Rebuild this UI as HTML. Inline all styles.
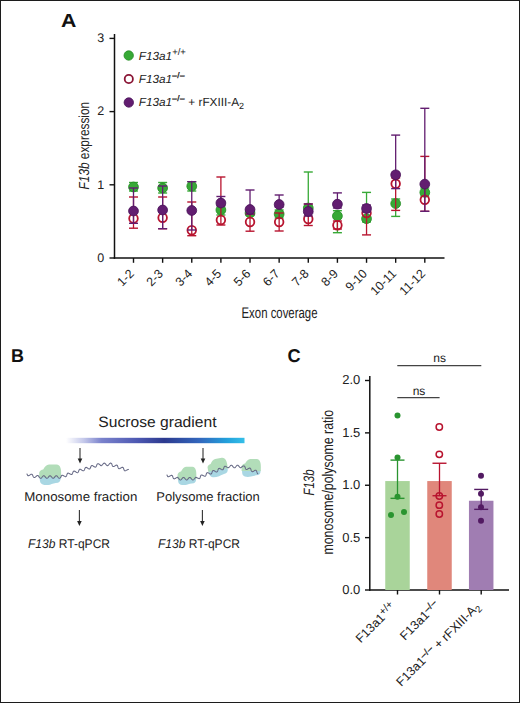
<!DOCTYPE html>
<html><head><meta charset="utf-8"><style>
html,body{margin:0;padding:0;background:#fff;}
#fig{position:relative;width:520px;height:703px;box-sizing:border-box;border:1px solid #1c1c1c;overflow:hidden;background:#fff;}
svg{position:absolute;left:-1px;top:-1px;}
text{font-family:"Liberation Sans", sans-serif;text-rendering:geometricPrecision;}
</style></head><body><div id="fig">
<svg width="520" height="703" viewBox="0 0 520 703" font-family='"Liberation Sans", sans-serif'>
<line x1="114.5" y1="34" x2="114.5" y2="258.7" stroke="#111" stroke-width="1.5"/>
<line x1="113.75" y1="258" x2="444.5" y2="258" stroke="#111" stroke-width="1.5"/>
<line x1="109.5" y1="258" x2="114.5" y2="258" stroke="#111" stroke-width="1.4"/>
<text x="104.3" y="261.8" text-anchor="end" font-size="12.5" fill="#222">0</text>
<line x1="109.5" y1="184.8" x2="114.5" y2="184.8" stroke="#111" stroke-width="1.4"/>
<text x="104.3" y="188.60000000000002" text-anchor="end" font-size="12.5" fill="#222">1</text>
<line x1="109.5" y1="111.6" x2="114.5" y2="111.6" stroke="#111" stroke-width="1.4"/>
<text x="104.3" y="115.39999999999999" text-anchor="end" font-size="12.5" fill="#222">2</text>
<line x1="109.5" y1="38.4" x2="114.5" y2="38.4" stroke="#111" stroke-width="1.4"/>
<text x="104.3" y="42.199999999999996" text-anchor="end" font-size="12.5" fill="#222">3</text>
<line x1="133.50" y1="258" x2="133.50" y2="262.8" stroke="#111" stroke-width="1.4"/>
<text transform="translate(134.80,274.5) rotate(-45) scale(0.98,1)" text-anchor="end" font-size="12.5" fill="#222">1-2</text>
<line x1="162.63" y1="258" x2="162.63" y2="262.8" stroke="#111" stroke-width="1.4"/>
<text transform="translate(163.93,274.5) rotate(-45) scale(0.98,1)" text-anchor="end" font-size="12.5" fill="#222">2-3</text>
<line x1="191.76" y1="258" x2="191.76" y2="262.8" stroke="#111" stroke-width="1.4"/>
<text transform="translate(193.06,274.5) rotate(-45) scale(0.98,1)" text-anchor="end" font-size="12.5" fill="#222">3-4</text>
<line x1="220.89" y1="258" x2="220.89" y2="262.8" stroke="#111" stroke-width="1.4"/>
<text transform="translate(222.19,274.5) rotate(-45) scale(0.98,1)" text-anchor="end" font-size="12.5" fill="#222">4-5</text>
<line x1="250.02" y1="258" x2="250.02" y2="262.8" stroke="#111" stroke-width="1.4"/>
<text transform="translate(251.32,274.5) rotate(-45) scale(0.98,1)" text-anchor="end" font-size="12.5" fill="#222">5-6</text>
<line x1="279.15" y1="258" x2="279.15" y2="262.8" stroke="#111" stroke-width="1.4"/>
<text transform="translate(280.45,274.5) rotate(-45) scale(0.98,1)" text-anchor="end" font-size="12.5" fill="#222">6-7</text>
<line x1="308.28" y1="258" x2="308.28" y2="262.8" stroke="#111" stroke-width="1.4"/>
<text transform="translate(309.58,274.5) rotate(-45) scale(0.98,1)" text-anchor="end" font-size="12.5" fill="#222">7-8</text>
<line x1="337.41" y1="258" x2="337.41" y2="262.8" stroke="#111" stroke-width="1.4"/>
<text transform="translate(338.71,274.5) rotate(-45) scale(0.98,1)" text-anchor="end" font-size="12.5" fill="#222">8-9</text>
<line x1="366.54" y1="258" x2="366.54" y2="262.8" stroke="#111" stroke-width="1.4"/>
<text transform="translate(367.84,274.5) rotate(-45) scale(0.98,1)" text-anchor="end" font-size="12.5" fill="#222">9-10</text>
<line x1="395.67" y1="258" x2="395.67" y2="262.8" stroke="#111" stroke-width="1.4"/>
<text transform="translate(396.97,274.5) rotate(-45) scale(0.98,1)" text-anchor="end" font-size="12.5" fill="#222">10-11</text>
<line x1="424.80" y1="258" x2="424.80" y2="262.8" stroke="#111" stroke-width="1.4"/>
<text transform="translate(426.10,274.5) rotate(-45) scale(0.98,1)" text-anchor="end" font-size="12.5" fill="#222">11-12</text>
<text x="241.5" y="317.5" font-size="15.4" fill="#222" textLength="76" lengthAdjust="spacingAndGlyphs">Exon coverage</text>
<text transform="translate(88.5,189.4) rotate(-90)" font-size="14.5" fill="#222" textLength="87.5" lengthAdjust="spacingAndGlyphs"><tspan font-style="italic">F13b</tspan> expression</text>
<line x1="133.50" y1="182.5" x2="133.50" y2="191" stroke="#37a936" stroke-width="1.3"/>
<line x1="129.00" y1="191" x2="138.00" y2="191" stroke="#37a936" stroke-width="1.4"/>
<line x1="129.00" y1="182.5" x2="138.00" y2="182.5" stroke="#37a936" stroke-width="1.4"/>
<circle cx="133.50" cy="187" r="4.9" fill="#37a936" stroke="#228b22" stroke-width="0.8"/>
<line x1="162.63" y1="182.5" x2="162.63" y2="193" stroke="#37a936" stroke-width="1.3"/>
<line x1="158.13" y1="193" x2="167.13" y2="193" stroke="#37a936" stroke-width="1.4"/>
<line x1="158.13" y1="182.5" x2="167.13" y2="182.5" stroke="#37a936" stroke-width="1.4"/>
<circle cx="162.63" cy="188" r="4.9" fill="#37a936" stroke="#228b22" stroke-width="0.8"/>
<line x1="191.76" y1="181.7" x2="191.76" y2="191" stroke="#37a936" stroke-width="1.3"/>
<line x1="187.26" y1="191" x2="196.26" y2="191" stroke="#37a936" stroke-width="1.4"/>
<line x1="187.26" y1="181.7" x2="196.26" y2="181.7" stroke="#37a936" stroke-width="1.4"/>
<circle cx="191.76" cy="186.2" r="4.9" fill="#37a936" stroke="#228b22" stroke-width="0.8"/>
<line x1="220.89" y1="205" x2="220.89" y2="215" stroke="#37a936" stroke-width="1.3"/>
<line x1="216.39" y1="215" x2="225.39" y2="215" stroke="#37a936" stroke-width="1.4"/>
<line x1="216.39" y1="205" x2="225.39" y2="205" stroke="#37a936" stroke-width="1.4"/>
<circle cx="220.89" cy="210" r="4.9" fill="#37a936" stroke="#228b22" stroke-width="0.8"/>
<line x1="250.02" y1="211" x2="250.02" y2="215.5" stroke="#37a936" stroke-width="1.3"/>
<line x1="245.52" y1="215.5" x2="254.52" y2="215.5" stroke="#37a936" stroke-width="1.4"/>
<line x1="245.52" y1="211" x2="254.52" y2="211" stroke="#37a936" stroke-width="1.4"/>
<circle cx="250.02" cy="213" r="4.9" fill="#37a936" stroke="#228b22" stroke-width="0.8"/>
<line x1="279.15" y1="210" x2="279.15" y2="218" stroke="#37a936" stroke-width="1.3"/>
<line x1="274.65" y1="218" x2="283.65" y2="218" stroke="#37a936" stroke-width="1.4"/>
<line x1="274.65" y1="210" x2="283.65" y2="210" stroke="#37a936" stroke-width="1.4"/>
<circle cx="279.15" cy="214" r="4.9" fill="#37a936" stroke="#228b22" stroke-width="0.8"/>
<line x1="308.28" y1="172" x2="308.28" y2="212" stroke="#37a936" stroke-width="1.3"/>
<line x1="303.78" y1="212" x2="312.78" y2="212" stroke="#37a936" stroke-width="1.4"/>
<line x1="303.78" y1="172" x2="312.78" y2="172" stroke="#37a936" stroke-width="1.4"/>
<circle cx="308.28" cy="208" r="4.9" fill="#37a936" stroke="#228b22" stroke-width="0.8"/>
<line x1="337.41" y1="210.7" x2="337.41" y2="232.7" stroke="#37a936" stroke-width="1.3"/>
<line x1="332.91" y1="232.7" x2="341.91" y2="232.7" stroke="#37a936" stroke-width="1.4"/>
<line x1="332.91" y1="210.7" x2="341.91" y2="210.7" stroke="#37a936" stroke-width="1.4"/>
<circle cx="337.41" cy="216" r="4.9" fill="#37a936" stroke="#228b22" stroke-width="0.8"/>
<line x1="366.54" y1="192.4" x2="366.54" y2="222" stroke="#37a936" stroke-width="1.3"/>
<line x1="362.04" y1="222" x2="371.04" y2="222" stroke="#37a936" stroke-width="1.4"/>
<line x1="362.04" y1="192.4" x2="371.04" y2="192.4" stroke="#37a936" stroke-width="1.4"/>
<circle cx="366.54" cy="218.7" r="4.9" fill="#37a936" stroke="#228b22" stroke-width="0.8"/>
<line x1="395.67" y1="199" x2="395.67" y2="216.4" stroke="#37a936" stroke-width="1.3"/>
<line x1="391.17" y1="216.4" x2="400.17" y2="216.4" stroke="#37a936" stroke-width="1.4"/>
<line x1="391.17" y1="199" x2="400.17" y2="199" stroke="#37a936" stroke-width="1.4"/>
<circle cx="395.67" cy="203.6" r="4.9" fill="#37a936" stroke="#228b22" stroke-width="0.8"/>
<line x1="424.80" y1="188" x2="424.80" y2="196" stroke="#37a936" stroke-width="1.3"/>
<line x1="420.30" y1="196" x2="429.30" y2="196" stroke="#37a936" stroke-width="1.4"/>
<line x1="420.30" y1="188" x2="429.30" y2="188" stroke="#37a936" stroke-width="1.4"/>
<circle cx="424.80" cy="192.4" r="4.9" fill="#37a936" stroke="#228b22" stroke-width="0.8"/>
<line x1="133.50" y1="197" x2="133.50" y2="228.2" stroke="#b8142f" stroke-width="1.3"/>
<line x1="129.00" y1="228.2" x2="138.00" y2="228.2" stroke="#b8142f" stroke-width="1.4"/>
<line x1="129.00" y1="197" x2="138.00" y2="197" stroke="#b8142f" stroke-width="1.4"/>
<circle cx="133.50" cy="218.5" r="4.3" fill="none" stroke="#b8142f" stroke-width="1.8"/>
<line x1="162.63" y1="197" x2="162.63" y2="228.7" stroke="#b8142f" stroke-width="1.3"/>
<line x1="158.13" y1="228.7" x2="167.13" y2="228.7" stroke="#b8142f" stroke-width="1.4"/>
<line x1="158.13" y1="197" x2="167.13" y2="197" stroke="#b8142f" stroke-width="1.4"/>
<circle cx="162.63" cy="217.7" r="4.3" fill="none" stroke="#b8142f" stroke-width="1.8"/>
<line x1="191.76" y1="202" x2="191.76" y2="235.7" stroke="#b8142f" stroke-width="1.3"/>
<line x1="187.26" y1="235.7" x2="196.26" y2="235.7" stroke="#b8142f" stroke-width="1.4"/>
<line x1="187.26" y1="202" x2="196.26" y2="202" stroke="#b8142f" stroke-width="1.4"/>
<circle cx="191.76" cy="230.2" r="4.3" fill="none" stroke="#b8142f" stroke-width="1.8"/>
<line x1="220.89" y1="177" x2="220.89" y2="225" stroke="#b8142f" stroke-width="1.3"/>
<line x1="216.39" y1="225" x2="225.39" y2="225" stroke="#b8142f" stroke-width="1.4"/>
<line x1="216.39" y1="177" x2="225.39" y2="177" stroke="#b8142f" stroke-width="1.4"/>
<circle cx="220.89" cy="220" r="4.3" fill="none" stroke="#b8142f" stroke-width="1.8"/>
<line x1="250.02" y1="214" x2="250.02" y2="231.2" stroke="#b8142f" stroke-width="1.3"/>
<line x1="245.52" y1="231.2" x2="254.52" y2="231.2" stroke="#b8142f" stroke-width="1.4"/>
<line x1="245.52" y1="214" x2="254.52" y2="214" stroke="#b8142f" stroke-width="1.4"/>
<circle cx="250.02" cy="222" r="4.3" fill="none" stroke="#b8142f" stroke-width="1.8"/>
<line x1="279.15" y1="213" x2="279.15" y2="231" stroke="#b8142f" stroke-width="1.3"/>
<line x1="274.65" y1="231" x2="283.65" y2="231" stroke="#b8142f" stroke-width="1.4"/>
<line x1="274.65" y1="213" x2="283.65" y2="213" stroke="#b8142f" stroke-width="1.4"/>
<circle cx="279.15" cy="222" r="4.3" fill="none" stroke="#b8142f" stroke-width="1.8"/>
<line x1="308.28" y1="204" x2="308.28" y2="225.5" stroke="#b8142f" stroke-width="1.3"/>
<line x1="303.78" y1="225.5" x2="312.78" y2="225.5" stroke="#b8142f" stroke-width="1.4"/>
<line x1="303.78" y1="204" x2="312.78" y2="204" stroke="#b8142f" stroke-width="1.4"/>
<circle cx="308.28" cy="219" r="4.3" fill="none" stroke="#b8142f" stroke-width="1.8"/>
<line x1="337.41" y1="221" x2="337.41" y2="229" stroke="#b8142f" stroke-width="1.3"/>
<line x1="332.91" y1="229" x2="341.91" y2="229" stroke="#b8142f" stroke-width="1.4"/>
<line x1="332.91" y1="221" x2="341.91" y2="221" stroke="#b8142f" stroke-width="1.4"/>
<circle cx="337.41" cy="225.2" r="4.3" fill="none" stroke="#b8142f" stroke-width="1.8"/>
<line x1="366.54" y1="209" x2="366.54" y2="234.9" stroke="#b8142f" stroke-width="1.3"/>
<line x1="362.04" y1="234.9" x2="371.04" y2="234.9" stroke="#b8142f" stroke-width="1.4"/>
<line x1="362.04" y1="209" x2="371.04" y2="209" stroke="#b8142f" stroke-width="1.4"/>
<circle cx="366.54" cy="213" r="4.3" fill="none" stroke="#b8142f" stroke-width="1.8"/>
<line x1="395.67" y1="178" x2="395.67" y2="210.4" stroke="#b8142f" stroke-width="1.3"/>
<line x1="391.17" y1="210.4" x2="400.17" y2="210.4" stroke="#b8142f" stroke-width="1.4"/>
<line x1="391.17" y1="178" x2="400.17" y2="178" stroke="#b8142f" stroke-width="1.4"/>
<circle cx="395.67" cy="183.8" r="4.3" fill="none" stroke="#b8142f" stroke-width="1.8"/>
<line x1="424.80" y1="156.4" x2="424.80" y2="211.3" stroke="#b8142f" stroke-width="1.3"/>
<line x1="420.30" y1="211.3" x2="429.30" y2="211.3" stroke="#b8142f" stroke-width="1.4"/>
<line x1="420.30" y1="156.4" x2="429.30" y2="156.4" stroke="#b8142f" stroke-width="1.4"/>
<circle cx="424.80" cy="199.8" r="4.3" fill="none" stroke="#b8142f" stroke-width="1.8"/>
<line x1="133.50" y1="188" x2="133.50" y2="223.3" stroke="#621d70" stroke-width="1.3"/>
<line x1="129.00" y1="223.3" x2="138.00" y2="223.3" stroke="#621d70" stroke-width="1.4"/>
<line x1="129.00" y1="188" x2="138.00" y2="188" stroke="#621d70" stroke-width="1.4"/>
<circle cx="133.50" cy="211" r="4.9" fill="#621d70" stroke="#481058" stroke-width="0.8"/>
<line x1="162.63" y1="186" x2="162.63" y2="228.7" stroke="#621d70" stroke-width="1.3"/>
<line x1="158.13" y1="228.7" x2="167.13" y2="228.7" stroke="#621d70" stroke-width="1.4"/>
<line x1="158.13" y1="186" x2="167.13" y2="186" stroke="#621d70" stroke-width="1.4"/>
<circle cx="162.63" cy="210" r="4.9" fill="#621d70" stroke="#481058" stroke-width="0.8"/>
<line x1="191.76" y1="181.7" x2="191.76" y2="230" stroke="#621d70" stroke-width="1.3"/>
<line x1="187.26" y1="230" x2="196.26" y2="230" stroke="#621d70" stroke-width="1.4"/>
<line x1="187.26" y1="181.7" x2="196.26" y2="181.7" stroke="#621d70" stroke-width="1.4"/>
<circle cx="191.76" cy="210.5" r="4.9" fill="#621d70" stroke="#481058" stroke-width="0.8"/>
<line x1="220.89" y1="196.5" x2="220.89" y2="206" stroke="#621d70" stroke-width="1.3"/>
<line x1="216.39" y1="206" x2="225.39" y2="206" stroke="#621d70" stroke-width="1.4"/>
<line x1="216.39" y1="196.5" x2="225.39" y2="196.5" stroke="#621d70" stroke-width="1.4"/>
<circle cx="220.89" cy="203" r="4.9" fill="#621d70" stroke="#481058" stroke-width="0.8"/>
<line x1="250.02" y1="190" x2="250.02" y2="214" stroke="#621d70" stroke-width="1.3"/>
<line x1="245.52" y1="214" x2="254.52" y2="214" stroke="#621d70" stroke-width="1.4"/>
<line x1="245.52" y1="190" x2="254.52" y2="190" stroke="#621d70" stroke-width="1.4"/>
<circle cx="250.02" cy="209.5" r="4.9" fill="#621d70" stroke="#481058" stroke-width="0.8"/>
<line x1="279.15" y1="195" x2="279.15" y2="207" stroke="#621d70" stroke-width="1.3"/>
<line x1="274.65" y1="207" x2="283.65" y2="207" stroke="#621d70" stroke-width="1.4"/>
<line x1="274.65" y1="195" x2="283.65" y2="195" stroke="#621d70" stroke-width="1.4"/>
<circle cx="279.15" cy="204.5" r="4.9" fill="#621d70" stroke="#481058" stroke-width="0.8"/>
<line x1="308.28" y1="204" x2="308.28" y2="216" stroke="#621d70" stroke-width="1.3"/>
<line x1="303.78" y1="216" x2="312.78" y2="216" stroke="#621d70" stroke-width="1.4"/>
<line x1="303.78" y1="204" x2="312.78" y2="204" stroke="#621d70" stroke-width="1.4"/>
<circle cx="308.28" cy="211.5" r="4.9" fill="#621d70" stroke="#481058" stroke-width="0.8"/>
<line x1="337.41" y1="192.9" x2="337.41" y2="208" stroke="#621d70" stroke-width="1.3"/>
<line x1="332.91" y1="208" x2="341.91" y2="208" stroke="#621d70" stroke-width="1.4"/>
<line x1="332.91" y1="192.9" x2="341.91" y2="192.9" stroke="#621d70" stroke-width="1.4"/>
<circle cx="337.41" cy="204.2" r="4.9" fill="#621d70" stroke="#481058" stroke-width="0.8"/>
<line x1="366.54" y1="205" x2="366.54" y2="212" stroke="#621d70" stroke-width="1.3"/>
<line x1="362.04" y1="212" x2="371.04" y2="212" stroke="#621d70" stroke-width="1.4"/>
<line x1="362.04" y1="205" x2="371.04" y2="205" stroke="#621d70" stroke-width="1.4"/>
<circle cx="366.54" cy="208.5" r="4.9" fill="#621d70" stroke="#481058" stroke-width="0.8"/>
<line x1="395.67" y1="135.1" x2="395.67" y2="188.6" stroke="#621d70" stroke-width="1.3"/>
<line x1="391.17" y1="188.6" x2="400.17" y2="188.6" stroke="#621d70" stroke-width="1.4"/>
<line x1="391.17" y1="135.1" x2="400.17" y2="135.1" stroke="#621d70" stroke-width="1.4"/>
<circle cx="395.67" cy="174.8" r="4.9" fill="#621d70" stroke="#481058" stroke-width="0.8"/>
<line x1="424.80" y1="108.3" x2="424.80" y2="211.3" stroke="#621d70" stroke-width="1.3"/>
<line x1="420.30" y1="211.3" x2="429.30" y2="211.3" stroke="#621d70" stroke-width="1.4"/>
<line x1="420.30" y1="108.3" x2="429.30" y2="108.3" stroke="#621d70" stroke-width="1.4"/>
<circle cx="424.80" cy="184.1" r="4.9" fill="#621d70" stroke="#481058" stroke-width="0.8"/>
<circle cx="128.7" cy="55.5" r="4.7" fill="#37a936" stroke="#228b22" stroke-width="0.8"/>
<circle cx="128.8" cy="79" r="4.1" fill="none" stroke="#8a1535" stroke-width="1.8"/>
<circle cx="128.8" cy="102.5" r="4.7" fill="#621d70" stroke="#481058" stroke-width="0.8"/>
<text x="138.7" y="59.7" font-size="11.8" fill="#222"><tspan font-style="italic">F13a1</tspan><tspan font-size="9.5" dy="-5.2" stroke="#222" stroke-width="0" letter-spacing="0">+/+</tspan><tspan dy="5.2"></tspan></text>
<text x="138.7" y="82.6" font-size="11.8" fill="#222"><tspan font-style="italic">F13a1</tspan><tspan font-size="8.2" dy="-4.6" stroke="#222" stroke-width="0.35" letter-spacing="0.5">&#8211;/&#8211;</tspan><tspan dy="4.6"></tspan></text>
<text x="138.7" y="105.8" font-size="11.8" fill="#222"><tspan font-style="italic">F13a1</tspan><tspan font-size="8.2" dy="-4.6" stroke="#222" stroke-width="0.35" letter-spacing="0.5">&#8211;/&#8211;</tspan><tspan dy="4.6"> + rFXIII-A<tspan font-size="9" dy="3">2</tspan></tspan></text>
<text transform="translate(60.9,26.6) scale(1.12,1)" font-size="19" font-weight="bold" fill="#111">A</text>
<text transform="translate(10.9,361.5) scale(0.97,1)" font-size="18.5" font-weight="bold" fill="#111">B</text>
<text transform="translate(287.6,361.6) scale(0.98,1)" font-size="18.5" font-weight="bold" fill="#111">C</text>
<defs><linearGradient id="grad" x1="0" x2="1" y1="0" y2="0">
<stop offset="0" stop-color="#ffffff"/>
<stop offset="0.1" stop-color="#c4c8ea"/>
<stop offset="0.2" stop-color="#7a82cc"/>
<stop offset="0.4" stop-color="#4d58b2"/>
<stop offset="0.55" stop-color="#2c3a8f"/>
<stop offset="0.75" stop-color="#3267bd"/>
<stop offset="0.9" stop-color="#22a0db"/>
<stop offset="1" stop-color="#35bfe8"/>
</linearGradient></defs>
<rect x="66" y="437.8" width="178.5" height="5.4" fill="url(#grad)"/>
<text x="98.3" y="427" font-size="15" fill="#222" textLength="118.2" lengthAdjust="spacingAndGlyphs">Sucrose gradient</text>
<line x1="80" y1="448" x2="80" y2="459.5" stroke="#333" stroke-width="1.1"/>
<path d="M77.7,458.5 L82.3,458.5 L80,463.5 Z" fill="#222"/>
<line x1="203" y1="448" x2="203" y2="459.5" stroke="#333" stroke-width="1.1"/>
<path d="M200.7,458.5 L205.3,458.5 L203,463.5 Z" fill="#222"/>
<line x1="79.4" y1="510" x2="79.4" y2="522" stroke="#333" stroke-width="1.1"/>
<path d="M77.10000000000001,521 L81.7,521 L79.4,526 Z" fill="#222"/>
<line x1="202.4" y1="510" x2="202.4" y2="522" stroke="#333" stroke-width="1.1"/>
<path d="M200.1,521 L204.70000000000002,521 L202.4,526 Z" fill="#222"/>
<text x="24.3" y="501" font-size="12.8" fill="#222" textLength="113" lengthAdjust="spacingAndGlyphs">Monosome fraction</text>
<text x="156.3" y="501" font-size="12.8" fill="#222" textLength="103.5" lengthAdjust="spacingAndGlyphs">Polysome fraction</text>
<text x="28" y="548.4" font-size="12.6" fill="#222" textLength="82" lengthAdjust="spacingAndGlyphs"><tspan font-style="italic">F13b</tspan> RT-qPCR</text>
<text x="158" y="548.4" font-size="12.6" fill="#222" textLength="82" lengthAdjust="spacingAndGlyphs"><tspan font-style="italic">F13b</tspan> RT-qPCR</text>
<g transform="translate(39.2,477) rotate(0)"><path d="M0.6,-1 L21.6,-1 C21.9,2 21.3,5 18.8,6 C15.8,6.5 12.8,7 10.8,8 C6.8,8.8 2.8,8.5 1.3,6 C0.5,4 0.4,1 0.6,-1 Z" transform="scale(1.000,0.965)" fill="#a9d7e3"/><path d="M0,0.6 L0,-4.5 C0.3,-6 2.3,-7.6 4,-7.6 C5.6,-10 7.3,-12.2 9.8,-12.4 L17.3,-12.5 C19.3,-12.4 20.8,-11 21.3,-9 C22.1,-7 22,-3 21.8,0.6 Z" transform="scale(1.000,1.000)" fill="#b2ddb9"/></g>
<polyline points="27.00,474.00 27.22,474.61 27.46,475.14 27.76,475.53 28.11,475.74 28.53,475.75 29.01,475.58 29.53,475.28 30.07,474.92 30.61,474.57 31.12,474.31 31.57,474.21 31.97,474.29 32.29,474.58 32.57,475.03 32.80,475.60 33.05,476.21 33.36,476.76 33.69,477.20 34.06,477.47 34.45,477.53 34.88,477.40 35.33,477.10 35.81,476.69 36.29,476.24 36.76,475.84 37.21,475.57 37.64,475.47 38.03,475.57 38.38,475.87 38.71,476.33 39.00,476.88 39.40,477.40 39.81,477.85 40.21,478.17 40.61,478.30 41.01,478.22 41.41,477.95 41.81,477.52 42.21,477.01 42.61,476.50 43.01,476.07 43.41,475.79 43.81,475.70 44.21,475.82 44.61,476.13 45.01,476.57 45.41,477.09 45.81,477.59 46.21,478.00 46.61,478.24 47.01,478.29 47.41,478.13 47.81,477.80 48.21,477.33 48.61,476.81 49.01,476.32 49.41,475.94 49.81,475.73 50.21,475.72 50.62,475.92 51.02,476.29 51.42,476.77 51.82,477.29 52.22,477.76 52.62,478.11 53.02,478.29 53.42,478.25 53.82,478.02 54.22,477.63 54.62,477.13 55.02,476.61 55.42,476.16 55.82,475.84 56.22,475.70 56.62,475.78 57.02,476.04 57.42,476.47 57.82,476.97 58.22,477.48 58.62,477.92 59.02,478.21 59.42,478.30 59.82,478.19 60.22,477.88 60.62,477.44 61.00,476.92 61.20,476.31 61.44,475.79 61.73,475.42 62.09,475.23 62.51,475.23 63.01,475.41 63.54,475.71 64.09,476.06 64.64,476.39 65.15,476.61 65.60,476.68 65.98,476.55 66.29,476.24 66.54,475.76 66.75,475.17 66.95,474.54 67.16,473.96 67.42,473.49 67.73,473.18 68.12,473.07 68.57,473.15 69.08,473.38 69.63,473.71 70.18,474.06 70.71,474.35 71.20,474.52 71.63,474.52 71.98,474.32 72.27,473.93 72.48,473.42 72.71,472.82 72.94,472.22 73.20,471.68 73.50,471.29 73.85,471.07 74.26,471.06 74.73,471.23 75.25,471.53 75.78,471.90 76.31,472.27 76.81,472.55 77.27,472.67 77.67,472.61 78.01,472.35 78.30,471.92 78.55,471.36 78.78,470.75 79.01,470.16 79.28,469.67 79.60,469.34 79.98,469.21 80.42,469.27 80.90,469.50 81.43,469.84 81.96,470.22 82.49,470.55 82.97,470.78 83.41,470.84 83.79,470.70 84.10,470.37 84.37,469.88 84.61,469.29 84.84,468.68 85.09,468.12 85.37,467.69 85.71,467.43 86.12,467.37 86.57,467.50 87.08,467.78 87.61,468.15 88.14,468.52 88.66,468.82 89.13,468.99 89.54,468.97 89.89,468.76 90.19,468.36 90.44,467.82 90.67,467.21 90.91,466.61 91.17,466.10 91.47,465.73 91.84,465.55 92.26,465.57 92.74,465.76 93.26,466.09 93.79,466.46 94.32,466.82 94.82,467.07 95.27,467.17 95.66,467.08 95.99,466.79 96.27,466.33 96.51,465.75 96.74,465.14 96.98,464.56 97.26,464.10 97.58,463.80 97.97,463.70 98.42,463.79 98.91,464.04 99.44,464.39 99.98,464.77 100.27,465.21 100.67,465.54 101.07,465.69 101.47,465.64 101.87,465.38 102.27,464.97 102.67,464.47 103.07,463.95 103.47,463.51 103.87,463.21 104.27,463.10 104.67,463.20 105.07,463.49 105.47,463.92 105.87,464.43 106.27,464.94 106.67,465.36 107.07,465.63 107.47,465.70 107.88,465.56 108.28,465.24 108.68,464.78 109.08,464.26 109.48,463.77 109.88,463.37 110.28,463.14 110.68,463.11 111.45,463.38 111.71,463.85 111.92,464.44 112.12,465.06 112.33,465.65 112.58,466.13 112.89,466.45 113.27,466.58 113.72,466.51 114.23,466.29 114.77,465.97 115.33,465.62 115.86,465.32 116.35,465.14 116.78,465.13 117.14,465.32 117.43,465.69 117.67,466.21 117.87,466.82 118.07,467.44 118.30,468.00 118.57,468.42 118.90,468.67 119.31,468.72 119.78,468.59 120.31,468.32 120.86,467.97 121.41,467.63 121.93,467.37 122.40,467.26 122.80,467.32 123.13,467.58 123.40,468.02 123.62,468.58 123.82,469.21 124.03,469.81 124.27,470.32 124.56,470.68 124.93,470.85 125.36,470.83 125.86,470.64 126.39,470.33 126.95,469.98 127.49,469.66 127.99,469.45 128.44,469.40" fill="none" stroke="#676a86" stroke-width="1.05" stroke-linejoin="round" stroke-linecap="round"/>
<g transform="translate(177.6,478.7) rotate(0)"><path d="M0.6,-1 L21.6,-1 C21.9,2 21.3,5 18.8,6 C15.8,6.5 12.8,7 10.8,8 C6.8,8.8 2.8,8.5 1.3,6 C0.5,4 0.4,1 0.6,-1 Z" transform="scale(0.855,0.765)" fill="#a9d7e3"/><path d="M0,0.6 L0,-4.5 C0.3,-6 2.3,-7.6 4,-7.6 C5.6,-10 7.3,-12.2 9.8,-12.4 L17.3,-12.5 C19.3,-12.4 20.8,-11 21.3,-9 C22.1,-7 22,-3 21.8,0.6 Z" transform="scale(0.855,0.960)" fill="#b2ddb9"/></g>
<g transform="translate(208.2,471.2) rotate(-10)"><path d="M0.6,-1 L21.6,-1 C21.9,2 21.3,5 18.8,6 C15.8,6.5 12.8,7 10.8,8 C6.8,8.8 2.8,8.5 1.3,6 C0.5,4 0.4,1 0.6,-1 Z" transform="scale(0.909,0.859)" fill="#a9d7e3"/><path d="M0,0.6 L0,-4.5 C0.3,-6 2.3,-7.6 4,-7.6 C5.6,-10 7.3,-12.2 9.8,-12.4 L17.3,-12.5 C19.3,-12.4 20.8,-11 21.3,-9 C22.1,-7 22,-3 21.8,0.6 Z" transform="scale(0.909,0.864)" fill="#b2ddb9"/></g>
<g transform="translate(241.6,470.5) rotate(0)"><path d="M0.6,-1 L21.6,-1 C21.9,2 21.3,5 18.8,6 C15.8,6.5 12.8,7 10.8,8 C6.8,8.8 2.8,8.5 1.3,6 C0.5,4 0.4,1 0.6,-1 Z" transform="scale(0.877,0.765)" fill="#a9d7e3"/><path d="M0,0.6 L0,-4.5 C0.3,-6 2.3,-7.6 4,-7.6 C5.6,-10 7.3,-12.2 9.8,-12.4 L17.3,-12.5 C19.3,-12.4 20.8,-11 21.3,-9 C22.1,-7 22,-3 21.8,0.6 Z" transform="scale(0.877,0.920)" fill="#b2ddb9"/></g>
<polyline points="167.00,475.00 167.21,475.61 167.45,476.15 167.73,476.55 168.08,476.76 168.50,476.77 168.99,476.61 169.52,476.32 170.07,475.96 170.61,475.62 171.12,475.38 171.58,475.29 171.97,475.39 172.29,475.68 172.56,476.14 172.78,476.72 172.98,477.35 173.20,477.94 173.46,478.42 173.77,478.74 174.15,478.87 174.60,478.80 175.11,478.57 175.65,478.24 176.20,477.89 176.73,477.58 177.22,477.39 177.65,477.38 177.61,477.46 178.01,477.71 178.41,478.12 178.81,478.63 179.21,479.14 179.61,479.59 180.02,479.89 180.42,480.00 180.82,479.90 181.22,479.61 181.62,479.17 182.02,478.66 182.42,478.15 182.83,477.73 183.23,477.47 183.63,477.40 184.03,477.55 184.43,477.87 184.83,478.33 185.23,478.85 185.64,479.35 186.04,479.74 186.44,479.96 186.84,479.98 187.24,479.80 187.64,479.44 188.04,478.96 188.45,478.44 188.85,477.96 189.25,477.60 189.65,477.42 190.05,477.44 190.45,477.67 190.85,478.06 191.26,478.56 191.66,479.07 192.06,479.53 192.46,479.86 192.86,480.00 193.26,479.93 193.67,479.66 194.07,479.24 194.47,478.73 194.87,478.22 195.27,477.78 195.67,477.49 195.56,477.36 195.97,477.31 196.46,477.44 197.00,477.70 197.56,478.03 198.13,478.34 198.65,478.57 199.12,478.65 199.51,478.54 199.82,478.25 200.06,477.78 200.26,477.19 200.43,476.56 200.62,475.96 200.85,475.45 201.14,475.11 201.51,474.95 201.96,474.99 202.47,475.18 203.03,475.48 203.60,475.81 204.15,476.09 204.65,476.26 205.08,476.27 205.44,476.08 205.72,475.70 205.94,475.18 206.12,474.57 206.32,473.94 206.54,473.38 206.81,472.95 207.15,472.70 207.56,472.64 208.03,472.77 208.55,473.04 209.10,473.38 209.66,473.72 210.18,473.99 210.65,474.11 211.05,474.04 211.39,473.78 211.66,473.35 211.88,472.78 212.08,472.16 212.29,471.55 212.53,471.04 212.82,470.68 213.19,470.52 213.63,470.54 214.12,470.74 214.66,471.04 215.22,471.40 215.76,471.71 216.26,471.92 216.71,471.97 217.08,471.82 217.38,471.48 217.63,470.98 217.84,470.38 218.04,469.76 218.26,469.18 218.52,468.73 218.85,468.45 219.24,468.37 219.71,468.47 220.23,468.72 220.78,469.06 221.33,469.41 221.86,469.69 222.34,469.83 222.75,469.79 223.09,469.56 223.37,469.15 223.60,468.60 223.80,467.98 224.00,467.36 224.24,466.83 224.53,466.45 224.88,466.26 225.31,466.26 225.80,466.43 226.33,466.73 226.89,467.08 227.43,467.40 227.94,467.63 228.40,467.70 228.36,467.78 228.77,467.59 229.17,467.23 229.57,466.75 229.97,466.23 230.37,465.75 230.77,465.39 231.17,465.21 231.58,465.24 231.98,465.47 232.38,465.87 232.78,466.36 233.18,466.88 233.58,467.34 233.98,467.66 234.39,467.80 234.79,467.72 235.19,467.45 235.59,467.03 235.99,466.52 236.39,466.01 236.79,465.58 237.20,465.29 237.60,465.20 238.00,465.32 238.40,465.63 238.80,466.07 239.20,466.59 239.60,467.09 240.01,467.50 240.41,467.75 240.81,467.79 241.21,467.63 241.61,467.29 241.90,466.80 242.46,466.45 243.01,466.14 243.51,465.92 243.96,465.87 244.34,466.01 244.64,466.34 244.89,466.83 245.10,467.43 245.29,468.05 245.51,468.63 245.76,469.10 246.08,469.39 246.47,469.49 246.93,469.40 247.45,469.16 248.00,468.82 248.56,468.48 249.09,468.20 249.58,468.05 249.99,468.07 250.34,468.30 250.62,468.70 250.84,469.25 251.04,469.87 251.24,470.48 251.47,471.02 251.75,471.42 252.10,471.63 252.53,471.64 253.01,471.48 253.55,471.19 254.10,470.84 254.65,470.52 255.17,470.28 255.62,470.21 256.01,470.32 256.33,470.62 256.58,471.10 256.79,471.68 256.99,472.31 257.20,472.90 257.44,473.38 257.76,473.70" fill="none" stroke="#676a86" stroke-width="1.05" stroke-linejoin="round" stroke-linecap="round"/>
<line x1="369.8" y1="376" x2="369.8" y2="590.7" stroke="#111" stroke-width="1.5"/>
<line x1="369.05" y1="590" x2="509" y2="590" stroke="#111" stroke-width="1.5"/>
<line x1="365" y1="590.00" x2="369.8" y2="590.00" stroke="#111" stroke-width="1.4"/>
<text x="360.3" y="593.90" text-anchor="end" font-size="13" fill="#222">0.0</text>
<line x1="365" y1="537.62" x2="369.8" y2="537.62" stroke="#111" stroke-width="1.4"/>
<text x="360.3" y="541.52" text-anchor="end" font-size="13" fill="#222">0.5</text>
<line x1="365" y1="485.25" x2="369.8" y2="485.25" stroke="#111" stroke-width="1.4"/>
<text x="360.3" y="489.15" text-anchor="end" font-size="13" fill="#222">1.0</text>
<line x1="365" y1="432.88" x2="369.8" y2="432.88" stroke="#111" stroke-width="1.4"/>
<text x="360.3" y="436.77" text-anchor="end" font-size="13" fill="#222">1.5</text>
<line x1="365" y1="380.50" x2="369.8" y2="380.50" stroke="#111" stroke-width="1.4"/>
<text x="360.3" y="384.40" text-anchor="end" font-size="13" fill="#222">2.0</text>
<rect x="385.25" y="481.06" width="24.5" height="108.94" fill="#a9d49a"/>
<line x1="397.5" y1="590" x2="397.5" y2="594.5" stroke="#111" stroke-width="1.4"/>
<rect x="427.25" y="481.06" width="24.5" height="108.94" fill="#e0877b"/>
<line x1="439.5" y1="590" x2="439.5" y2="594.5" stroke="#111" stroke-width="1.4"/>
<rect x="468.95" y="500.75" width="24.5" height="89.25" fill="#a07db2"/>
<line x1="481.2" y1="590" x2="481.2" y2="594.5" stroke="#111" stroke-width="1.4"/>
<line x1="397.5" y1="460.11" x2="397.5" y2="498.34" stroke="#2a9430" stroke-width="1.3"/>
<line x1="390.5" y1="460.11" x2="404.5" y2="460.11" stroke="#2a9430" stroke-width="1.4"/>
<line x1="390.5" y1="498.34" x2="404.5" y2="498.34" stroke="#2a9430" stroke-width="1.4"/>
<line x1="439.5" y1="463.25" x2="439.5" y2="495.73" stroke="#b8142f" stroke-width="1.3"/>
<line x1="432.5" y1="463.25" x2="446.5" y2="463.25" stroke="#b8142f" stroke-width="1.4"/>
<line x1="432.5" y1="495.73" x2="446.5" y2="495.73" stroke="#b8142f" stroke-width="1.4"/>
<line x1="481.2" y1="489.44" x2="481.2" y2="509.34" stroke="#521a62" stroke-width="1.3"/>
<line x1="474.2" y1="489.44" x2="488.2" y2="489.44" stroke="#521a62" stroke-width="1.4"/>
<line x1="474.2" y1="509.34" x2="488.2" y2="509.34" stroke="#521a62" stroke-width="1.4"/>
<circle cx="397.5" cy="415.59" r="3" fill="#2a9430"/>
<circle cx="397.5" cy="457.49" r="3" fill="#2a9430"/>
<circle cx="397.5" cy="496.77" r="3" fill="#2a9430"/>
<circle cx="391" cy="515.00" r="3" fill="#2a9430"/>
<circle cx="404" cy="511.96" r="3" fill="#2a9430"/>
<circle cx="439.3" cy="427.01" r="3.2" fill="none" stroke="#b8142f" stroke-width="1.5"/>
<circle cx="439.3" cy="454.35" r="3.2" fill="none" stroke="#b8142f" stroke-width="1.5"/>
<circle cx="439.3" cy="496.04" r="3.2" fill="none" stroke="#b8142f" stroke-width="1.5"/>
<circle cx="439.3" cy="505.15" r="3.2" fill="none" stroke="#b8142f" stroke-width="1.5"/>
<circle cx="439.3" cy="513.95" r="3.2" fill="none" stroke="#b8142f" stroke-width="1.5"/>
<circle cx="481" cy="475.82" r="3" fill="#521a62"/>
<circle cx="481" cy="493.63" r="3" fill="#521a62"/>
<circle cx="481" cy="507.25" r="3" fill="#521a62"/>
<circle cx="481" cy="520.87" r="3" fill="#521a62"/>
<line x1="397.3" y1="365.6" x2="481.3" y2="365.6" stroke="#444" stroke-width="1.3"/>
<line x1="397.3" y1="397.7" x2="439.6" y2="397.7" stroke="#444" stroke-width="1.3"/>
<text x="433.3" y="362.1" font-size="12" fill="#222">ns</text>
<text x="412.7" y="394.8" font-size="12" fill="#222">ns</text>
<text transform="translate(314.2,495.5) rotate(-90)" font-size="15" fill="#222" textLength="26" lengthAdjust="spacingAndGlyphs" font-style="italic">F13b</text>
<text transform="translate(333,554.5) rotate(-90)" font-size="15.4" fill="#222" textLength="144.5" lengthAdjust="spacingAndGlyphs">monosome/polysome ratio</text>
<text transform="translate(360.7,643.6) rotate(-45)" font-size="12.5" fill="#222">F13a1<tspan font-size="10.5" dy="-4">+/+</tspan></text>
<text transform="translate(404.9,640.9) rotate(-45)" font-size="12.5" fill="#222">F13a1<tspan font-size="9.2" dy="-4" stroke="#222" stroke-width="0.3" letter-spacing="0.5">&#8211;/&#8211;</tspan></text>
<text transform="translate(401.3,686.9) rotate(-45)" font-size="12.5" fill="#222">F13a1<tspan font-size="9.2" dy="-4" stroke="#222" stroke-width="0.3" letter-spacing="0.5">&#8211;/&#8211;</tspan><tspan dy="4" stroke-width="0" letter-spacing="0"> + rFXIII-A</tspan><tspan font-size="9.5" dy="3">2</tspan></text>
</svg></div></body></html>
